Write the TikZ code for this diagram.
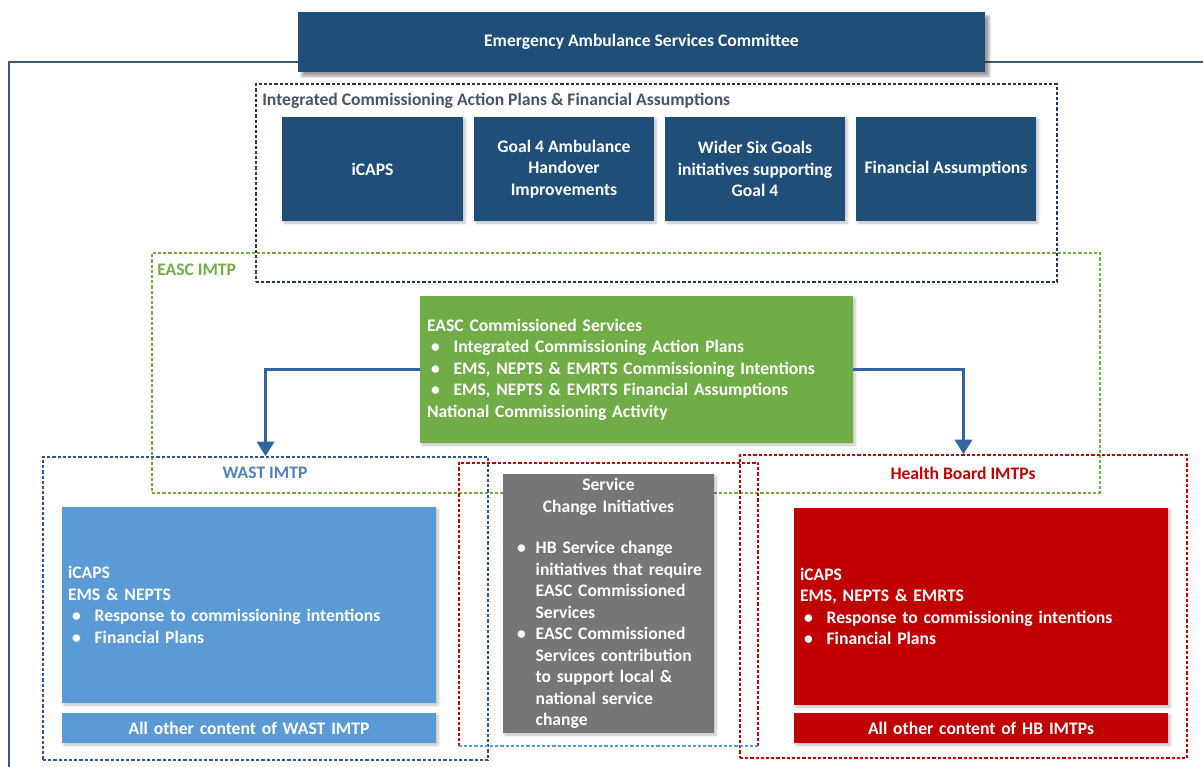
\documentclass[tikz,border=0pt]{standalone}
\usepackage{fontspec}
\setmainfont{Carlito}
\usepackage{tikz}
\usetikzlibrary{arrows.meta}
\usetikzlibrary{shadows.blur}

\newcommand{\bitem}[2][20pt]{\makebox[#1][l]{\hspace{3pt}\textbullet}#2}
\newcommand{\bcont}[2][20pt]{\hspace*{#1}#2}

\begin{document}
\begin{tikzpicture}[x=0.75pt,y=0.75pt,yscale=-1,xscale=1,
  every node/.style={font=\fontsize{13.2}{16.1}\selectfont\bfseries},
  navybox/.style={fill={rgb, 255:red, 31; green, 78; blue, 121 },text=white,inner sep=0pt,align=center},
  greenbox/.style={fill={rgb, 255:red, 112; green, 173; blue, 71 },text=white,inner xsep=5.25pt,inner ysep=0pt,align=left},
  wastbox/.style={fill={rgb, 255:red, 91; green, 155; blue, 213 },text=white,inner xsep=4.5pt,inner ysep=0pt,align=left},
  hbbox/.style={fill={rgb, 255:red, 192; green, 0; blue, 0 },text=white,inner xsep=4.5pt,inner ysep=0pt,align=left},
  greybox/.style={fill={rgb, 255:red, 118; green, 118; blue, 118 },text=white,inner xsep=7.5pt,inner ysep=0pt,align=left},
  softshadow/.style={blur shadow={shadow xshift=1.5pt,shadow yshift=-1.5pt,shadow blur steps=4,shadow opacity=25}},
  dashline/.style={line width=1.2pt,dash pattern=on 2.4pt off 1.5pt},
  frm/.style={dashline,inner sep=0pt},
  feed/.style={line width=2.3pt,color={rgb, 255:red, 52; green, 101; blue, 158 },-{Triangle[width=13pt,length=11pt]}}
]
\useasboundingbox (0,0) rectangle (1203,767);

%Straight Lines [outer frame]
\coordinate (frmcorner) at (9,62);
\draw [color={rgb, 255:red, 61; green, 88; blue, 120 },line width=1.5pt] (9,767) -- (frmcorner) -- (1203,62);

%Rectangle [committee]
\draw (641.5,42) node (ctee) [navybox,minimum width=515.25pt,minimum height=45pt,blur shadow={shadow xshift=3pt,shadow yshift=-3pt,shadow blur steps=5,shadow opacity=40}] {Emergency Ambulance Services Committee};

%Dashed Rect [EASC IMTP]
\draw (626,373) node (easc) [frm,draw={rgb, 255:red, 112; green, 173; blue, 71 },minimum width=711pt,minimum height=180pt] {};
%Dashed Rect [iCAP frame]
\draw (656.5,183) node (icapfrm) [frm,draw={rgb, 255:red, 31; green, 56; blue, 100 },minimum width=600.75pt,minimum height=148.5pt] {};

% Text Node
\draw (262,101) node (icaplbl) [anchor=west,inner sep=0pt,text={rgb, 255:red, 68; green, 84; blue, 106 }] {Integrated Commissioning Action Plans \& Financial Assumptions};
% Text Node
\draw (157,270) node (easclbl) [anchor=west,inner sep=0pt,text={rgb, 255:red, 112; green, 173; blue, 71 }] {EASC IMTP};

%Rectangle [plan boxes]
\draw (372.5,169) node (icaps) [navybox,softshadow,minimum width=135.75pt,minimum height=78pt] {iCAPS};
\draw (564,169) node (goalfour) [navybox,softshadow,minimum width=135pt,minimum height=78pt] {Goal 4 Ambulance\\Handover\\Improvements};
\draw (755,169) node (sixgoals) [navybox,softshadow,minimum width=135pt,minimum height=78pt] {Wider Six Goals\\initiatives supporting\\Goal 4};
\draw (946,169) node (finass) [navybox,softshadow,minimum width=135pt,minimum height=78pt] {Financial Assumptions};

%Rectangle [commissioned services]
\draw (636.5,369.5) node (easccs) [greenbox,softshadow,text width=314.25pt,minimum height=110.25pt] {EASC Commissioned Services\\
\bitem{Integrated Commissioning Action Plans}\\
\bitem{EMS, NEPTS \& EMRTS Commissioning Intentions}\\
\bitem{EMS, NEPTS \& EMRTS Financial Assumptions}\\
National Commissioning Activity};

%Dashed Rect [WAST IMTP]
\draw (265.5,608.5) node (wast) [frm,draw={rgb, 255:red, 47; green, 85; blue, 151 },minimum width=333.75pt,minimum height=227.25pt] {};
%Dashed Rect [Health Board IMTPs]
\draw (963.5,606.5) node (hb) [frm,draw={rgb, 255:red, 192; green, 0; blue, 0 },minimum width=335.25pt,minimum height=227.25pt] {};
%Dashed Rect [service change frame]
\draw (608.5,604.5) node (midfrm) [inner sep=0pt,minimum width=224.25pt,minimum height=212.25pt] {};
\draw [dashline,color={rgb, 255:red, 192; green, 0; blue, 0 }] (midfrm.south west) -- (midfrm.north west) -- (midfrm.north east) -- (midfrm.south east);
\draw [dashline,color={rgb, 255:red, 91; green, 155; blue, 213 }] (midfrm.south west) -- (midfrm.south east);

% Text Node
\draw (265,473) node (wastlbl) [inner sep=0pt,text={rgb, 255:red, 79; green, 129; blue, 189 }] {WAST IMTP};
% Text Node
\draw (963,473) node (hblbl) [inner sep=0pt,text={rgb, 255:red, 192; green, 0; blue, 0 }] {Health Board IMTPs};

%Rectangle [WAST content]
\draw (249,605) node (wastmain) [wastbox,softshadow,text width=271.5pt,minimum height=147pt] {iCAPS\\
EMS \& NEPTS\\
\bitem{Response to commissioning intentions}\\
\bitem{Financial Plans}};
\draw (249,728) node (wastsub) [wastbox,softshadow,align=center,text width=271.5pt,minimum height=22.5pt] {All other content of WAST IMTP};

%Rectangle [service change]
\draw (608.5,603.5) node (svcchg) [greybox,softshadow,text width=143.25pt,minimum height=194.25pt] {\makebox[\linewidth]{Service}\\
\makebox[\linewidth]{Change Initiatives}\\[15pt]
\bitem[17pt]{HB Service change}\\
\bcont[17pt]{initiatives that require}\\
\bcont[17pt]{EASC Commissioned}\\
\bcont[17pt]{Services}\\
\bitem[17pt]{EASC Commissioned}\\
\bcont[17pt]{Services contribution}\\
\bcont[17pt]{to support local \&}\\
\bcont[17pt]{national service}\\
\bcont[17pt]{change}};

%Rectangle [HB content]
\draw (981,606.5) node (hbmain) [hbbox,softshadow,text width=271.5pt,minimum height=147.75pt] {iCAPS\\
EMS, NEPTS \& EMRTS\\
\bitem{Response to commissioning intentions}\\
\bitem{Financial Plans}};
\draw (981,728) node (hbsub) [hbbox,softshadow,align=center,text width=271.5pt,minimum height=22.5pt] {All other content of HB IMTPs};

%Straight Lines [feeds]
\draw [feed] (easccs.west) -| (wast.north);
\draw [feed] (easccs.east) -| (hb.north);

\end{tikzpicture}
\end{document}
